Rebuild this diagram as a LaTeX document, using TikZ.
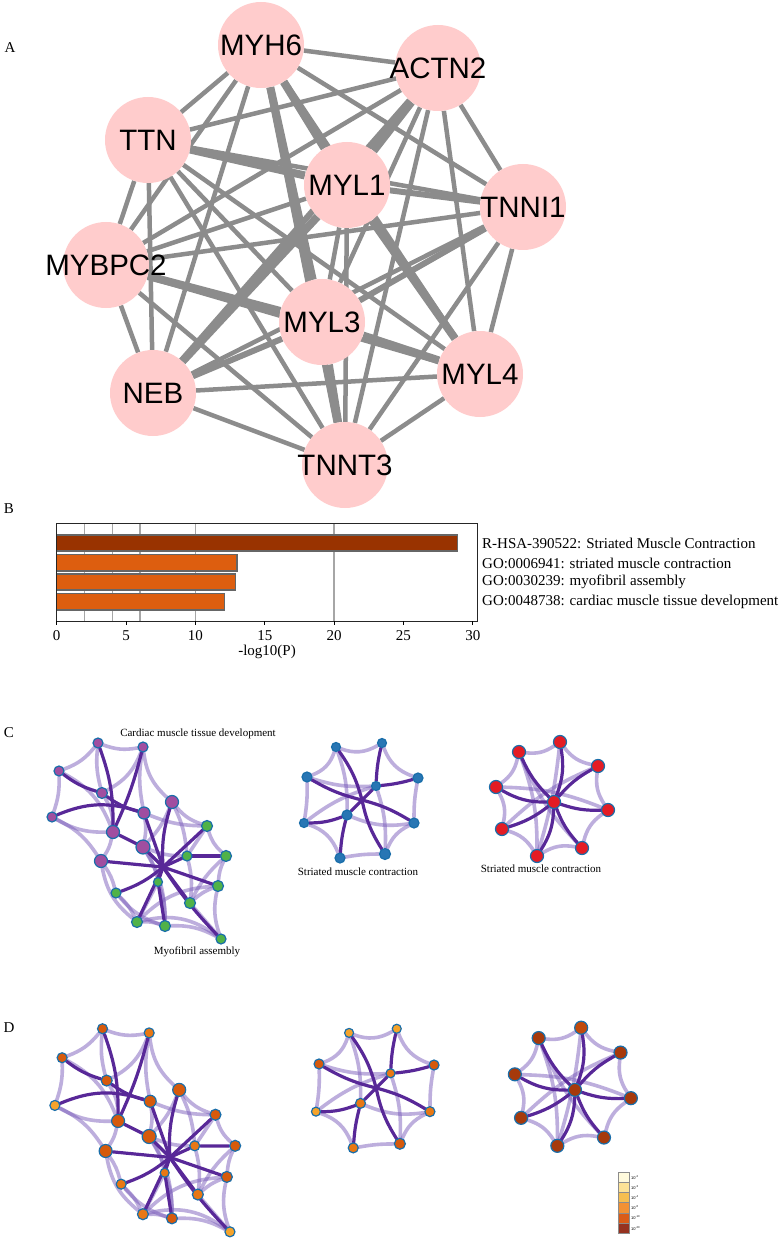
\documentclass[tikz,border=0pt]{standalone}
\usepackage{fontspec}
\setmainfont{Liberation Serif}
\newfontfamily\arialf{Liberation Sans}
\pgfdeclarelayer{bgw}
\pgfdeclarelayer{bg}
\pgfsetlayers{bgw,bg,main}
\definecolor{apink}{RGB}{255,204,204}
\definecolor{aedge}{RGB}{140,140,140}
\definecolor{barA}{RGB}{153,51,0}
\definecolor{barB}{RGB}{221,94,15}
\definecolor{dkp}{RGB}{88,40,152}
\definecolor{ltp}{RGB}{125,95,188}
\definecolor{nb}{RGB}{25,110,170}
\definecolor{cmag}{RGB}{160,78,160}
\definecolor{cgrn}{RGB}{80,178,72}
\definecolor{cblu}{RGB}{40,118,180}
\definecolor{cred}{RGB}{228,28,36}
\definecolor{oA}{RGB}{214,90,12}
\definecolor{oB}{RGB}{232,120,20}
\definecolor{oC}{RGB}{245,163,42}
\definecolor{brA}{RGB}{166,58,12}
\definecolor{brB}{RGB}{192,74,12}
\definecolor{lgA}{RGB}{255,250,220}
\definecolor{lgB}{RGB}{252,226,150}
\definecolor{lgC}{RGB}{245,190,80}
\definecolor{lgD}{RGB}{242,145,52}
\definecolor{lgE}{RGB}{218,92,24}
\definecolor{lgF}{RGB}{150,50,32}
\tikzset{
  anode/.style={circle, fill=apink, minimum size=86pt, inner sep=0pt},
  atext/.style={font=\arialf\fontsize{29.5}{32}\selectfont, text=black, inner sep=0pt},
  ae/.style={draw=aedge, line width=4.5pt},
  aeM/.style={draw=aedge, line width=6pt},
  aeT/.style={draw=aedge, line width=8pt},
  cn/.style={circle, draw=nb, line width=1.2pt, inner sep=0pt},
  dk/.style={draw=dkp, line width=3.2pt, line cap=round},
  lt/.style={draw=ltp, line width=3.6pt, opacity=.5, line cap=round},
  lab/.style={font=\fontsize{15}{18}\selectfont, inner sep=0pt},
  clab/.style={font=\fontsize{11}{13}\selectfont, inner sep=0pt},
  leg/.style={font=\arialf\fontsize{4}{5}\selectfont, inner sep=0pt},
  gridl/.style={draw=black!35, line width=1.3pt},
  barl/.style={draw=black!60, line width=1.2pt}
}
% ---------- cluster macros ----------
\newcommand\leftgraph[2]{%
  \foreach \n/\x/\y/\rr/\cc/\dc in {m1/98/743/5/cmag/oA, m2/143/747/5/cmag/oB, m3/59/771/5/cmag/oA,
    m4/102/793/5.5/cmag/oA, m5/172/802/6.5/cmag/oA, m6/144/813/6/cmag/oA, m7/52/817/5/cmag/oC,
    m8/113/832/6.5/cmag/oA, m9/143/847/7/cmag/oA, m10/101/861/6.5/cmag/oA,
    g1/207/826/5.5/cgrn/oA, g2/226/856/5.5/cgrn/oA, g3/187/856/5/cgrn/oB, g4/218/886/5.5/cgrn/oA,
    g5/158/882/4.5/cgrn/oB, g6/116/893/5/cgrn/oB, g7/190/903/5.5/cgrn/oB, g8/137/922/5.5/cgrn/oB,
    g9/165/926/5.5/cgrn/oA, g10/221/939/5/cgrn/oC}
  {\node[cn, minimum size={2*\rr pt}, fill=#2] (#1\n) at (\x,\y) {};}
  \coordinate (#1h) at (163,867);
  \begin{pgfonlayer}{bg}
  \foreach \a/\b/\bb in {m1/m2/-15, m1/m3/15, m3/m7/10, m2/m5/-20, m7/m10/15, m10/g6/10, g6/g8/10,
     g8/g9/10, g9/g10/15, g8/g10/25, g10/g4/15, g4/g2/10, g2/g1/15, g1/m5/15, m5/g3/10, g1/g3/0,
     g3/g7/10, g7/g10/0, g5/g8/0, g5/g9/10, g7/g4/10, m9/g5/10, m8/m10/10, m4/m8/15, m1/m4/-10,
     m6/m9/10, m2/m6/-10, m7/m8/-15, m3/m8/20, m4/m2/-20, m10/g8/-20, m9/g9/15, m6/g1/-10, m5/m9/10,
     g6/g9/-15, g8/g4/20, g2/g7/-10, m9/g3/-10}
    {\draw[lt] (#1\a) to[bend left=\bb] (#1\b);}
  \foreach \a/\b/\bb in {m3/m4/-10, m4/m6/-10, m7/m6/20, m1/m8/10, m2/m8/5, m8/m9/0, m9/h/0,
     m6/h/0, m5/h/-10, m10/h/0, g1/h/0, g2/g3/0, g3/h/0, g4/h/0, g5/h/0, g6/h/-10, g7/h/0,
     g8/h/0, g9/g5/0, g10/h/5}
    {\draw[dk] (#1\a) to[bend left=\bb] (#1\b);}
  \end{pgfonlayer}}
\newcommand\midgraph[2]{%
  \foreach \n/\x/\y/\rr/\cc/\dc in {s1/336/747/4.5/cblu/oC, s2/382/743/4.5/cblu/oC, s3/307/777/5/cblu/oA,
    s4/418/778/5/cblu/oA, s5/376/786/4.5/cblu/oB, s6/347/815/5/cblu/oB, s7/304/823/4.5/cblu/oC,
    s8/414/823/5/cblu/oB, s9/340/858/5/cblu/oB, s10/385/854/5.5/cblu/oA}
  {\node[cn, minimum size={2*\rr pt}, fill=#2] (#1\n) at (\x,\y) {};}
  \coordinate (#1h) at (362,800);
  \begin{pgfonlayer}{bg}
  \foreach \a/\b/\bb in {s1/s2/-25, s2/s4/-25, s4/s8/-5, s8/s10/-20, s10/s9/-5, s9/s7/-25,
     s7/s3/-5, s3/s1/-25, s5/s10/10, s6/s8/-15, s1/s6/10, s3/s5/-10, s7/s5/10}
    {\draw[lt] (#1\a) to[bend left=\bb] (#1\b);}
  \foreach \a/\b/\bb in {s3/h/-8, h/s8/8, s1/h/10, h/s10/-10, s4/s5/5, s2/s5/-5, s5/h/0,
     h/s6/0, s6/s7/10, s6/s9/-5}
    {\draw[dk] (#1\a) to[bend left=\bb] (#1\b);}
  \end{pgfonlayer}}
\newcommand\rightgraph[2]{%
  \foreach \n/\x/\y/\cc/\dc in {t1/519/752/cred/brA, t2/560/742/cred/brB, t3/598/766/cred/brA,
    t4/496/787/cred/brA, t5/554/802/cred/brA, t6/608/810/cred/brA, t7/502/829/cred/brA,
    t8/582/848/cred/brA, t9/537/856/cred/brA}
  {\node[cn, minimum size=13pt, fill=#2] (#1\n) at (\x,\y) {};}
  \begin{pgfonlayer}{bg}
  \foreach \a/\b/\bb in {t1/t2/-20, t2/t3/-20, t3/t6/-20, t6/t8/-20, t8/t9/-20, t9/t7/-20,
     t7/t4/-20, t4/t1/-20, t2/t9/5, t1/t9/10, t4/t6/10, t3/t7/-10, t1/t8/-10}
    {\draw[lt] (#1\a) to[bend left=\bb] (#1\b);}
  \foreach \b/\bb in {t1/10, t2/-15, t3/10, t4/15, t6/-10, t7/10, t8/-10, t9/15}
    {\draw[dk] (#1t5) to[bend left=\bb] (#1\b);}
  \end{pgfonlayer}}
\begin{document}
\begin{tikzpicture}[x=1pt,y=-1pt]
\useasboundingbox (0,0) rectangle (780,1238);
\begin{pgfonlayer}{bgw}
\fill[white] (0,0) rectangle (780,1238);
\end{pgfonlayer}
% ================= A =================
\node[lab] (labA) at (10,48) {A};
\foreach \n/\x/\y in {MYH6/261/45, ACTN2/438/68, TTN/148/140, MYL1/347/185, TNNI1/523/207,
   MYBPC2/106/265, MYL3/322/322, MYL4/480/374, NEB/153/393, TNNT3/345/465}
  {\node[anode, label={[atext]center:\n}] (\n) at (\x,\y) {};}
\begin{pgfonlayer}{bg}
\foreach \u/\v/\s in {MYH6/ACTN2/ae, MYH6/TTN/ae, MYH6/MYL1/aeT, MYH6/TNNI1/ae, MYH6/MYBPC2/ae,
  MYH6/MYL3/aeT, MYH6/MYL4/ae, MYH6/NEB/ae, MYH6/TNNT3/aeM,
  ACTN2/TTN/ae, ACTN2/MYL1/aeT, ACTN2/TNNI1/ae, ACTN2/MYBPC2/ae, ACTN2/MYL3/ae, ACTN2/MYL4/ae,
  ACTN2/NEB/aeM, ACTN2/TNNT3/ae,
  TTN/MYL1/aeT, TTN/TNNI1/ae, TTN/MYBPC2/ae, TTN/MYL3/ae, TTN/MYL4/ae, TTN/NEB/ae, TTN/TNNT3/ae,
  MYL1/TNNI1/aeM, MYL1/MYBPC2/ae, MYL1/MYL3/ae, MYL1/MYL4/aeT, MYL1/NEB/aeT, MYL1/TNNT3/ae,
  TNNI1/MYBPC2/ae, TNNI1/MYL3/aeM, TNNI1/MYL4/ae, TNNI1/NEB/ae, TNNI1/TNNT3/ae,
  MYBPC2/MYL3/aeT, MYBPC2/MYL4/ae, MYBPC2/NEB/ae, MYBPC2/TNNT3/ae,
  MYL3/MYL4/aeT, MYL3/NEB/aeM, MYL3/TNNT3/aeT,
  MYL4/NEB/ae, MYL4/TNNT3/ae, NEB/TNNT3/ae}
  {\draw[\s] (\u) -- (\v);}
\end{pgfonlayer}
% ================= B =================
\node[lab] (labB) at (9,509) {B};
\foreach \v in {2,4,6,10,20}
  {\draw[gridl] ({56.7+13.87*\v},523) -- ({56.7+13.87*\v},621);}
\draw[barl, fill=barA] (56.7,535) rectangle ({56.7+13.87*28.9},551);
\draw[barl, fill=barB] (56.7,554.5) rectangle ({56.7+13.87*13.0},571);
\draw[barl, fill=barB] (56.7,574) rectangle ({56.7+13.87*12.9},590);
\draw[barl, fill=barB] (56.7,593.5) rectangle ({56.7+13.87*12.1},610);
\draw[line width=1pt, draw=black!85] (56.7,523) rectangle (477,621);
\foreach \v in {0,5,...,30}
  {\draw[line width=.8pt] ({56.7+13.87*\v},621) -- ++(0,4);
   \node[lab] at ({56.7+13.87*\v},636) {\v};}
\node[lab] (xt) at (267,652) {-log10(P)};
\node[lab, anchor=west] (t1) at (482,543) {R-HSA-390522: Striated Muscle Contraction};
\node[lab, anchor=west] (t2) at (482,563) {GO:0006941: striated muscle contraction};
\node[lab, anchor=west] (t3) at (482,582) {GO:0030239: myofibril assembly};
\node[lab, anchor=west] (t4) at (482,602) {GO:0048738: cardiac muscle tissue development};
% ================= C =================
\node[lab] (labC) at (9,733) {C};
\node[clab] (cl1) at (198,734) {Cardiac muscle tissue development};
\node[clab] (cl2) at (197,952) {Myofibril assembly};
\node[clab] (cl3) at (358,872) {Striated muscle contraction};
\node[clab] (cl4) at (541,869) {Striated muscle contraction};
\leftgraph{C}{\cc}
\midgraph{C}{\cc}
\rightgraph{C}{\cc}
% ================= D =================
\node[lab] (labD) at (9,1028) {D};
\begin{scope}[shift={(1,259)}, scale=1.036]
\leftgraph{D}{\dc}
\midgraph{D}{\dc}
\rightgraph{D}{\dc}
\end{scope}
\foreach \i/\c/\lbl in {0/lgA/-2, 1/lgB/-3, 2/lgC/-4, 3/lgD/-6, 4/lgE/-10, 5/lgF/-20}
  {\draw[draw=black!45, line width=.6pt, fill=\c] (618,{1172+10.2*\i}) rectangle (629,{1182.2+10.2*\i});
   \node[leg, anchor=west] at (631,{1177.1+10.2*\i}) {10\textsuperscript{\lbl}};}
\end{tikzpicture}
\end{document}
